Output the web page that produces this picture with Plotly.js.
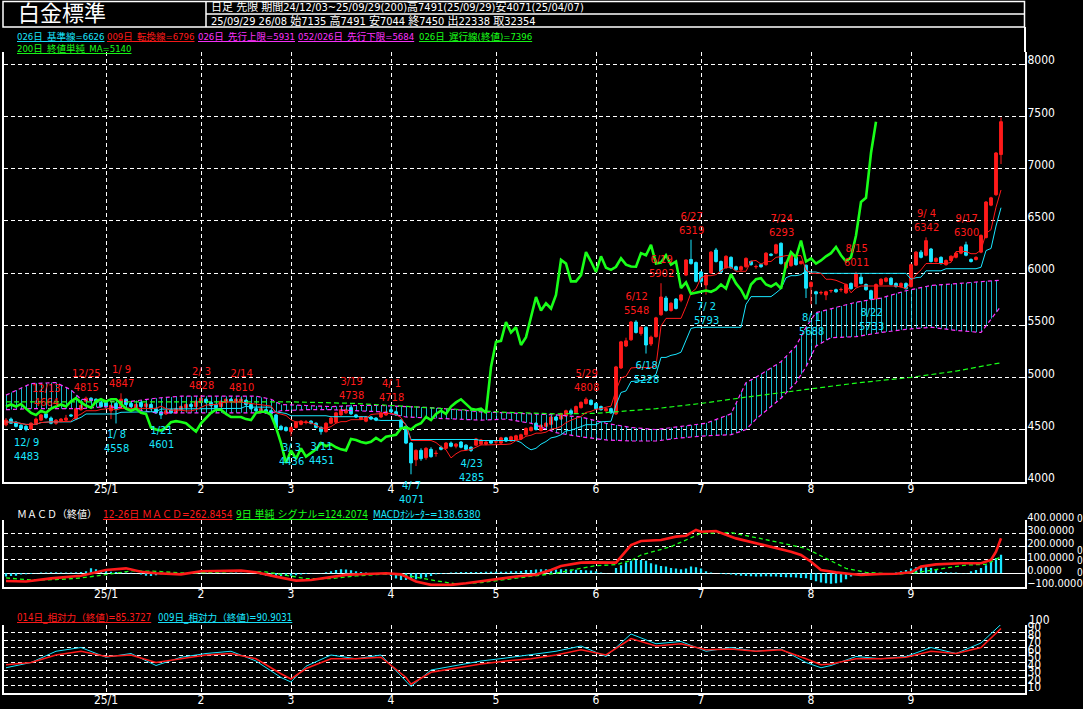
<!DOCTYPE html>
<html><head><meta charset="utf-8">
<script src="https://cdn.plot.ly/plotly-3.0.1.min.js"></script>
<style>html,body{margin:0;padding:0;background:#000;overflow:hidden}#chart{width:1083px;height:709px}</style>
</head><body><div id="chart"></div>
<script>
// ---------- price data (200 trading days, 24/12/03 .. 25/09/29) ----------
const openP = [4545,4600,4570,4540,4530,4505,4555,4590,4650,4610,
4560,4580,4590,4640,4600,4690,4770,4800,4790,4760,
4760,4680,4750,4720,4790,4750,4700,4760,4720,4740,
4700,4670,4650,4690,4660,4690,4710,4740,4720,4760,
4790,4760,4740,4720,4760,4790,4760,4770,4780,4740,
4700,4670,4690,4680,4640,4530,4520,4480,4520,4550,
4570,4580,4560,4520,4480,4560,4570,4640,4660,4710,
4640,4600,4580,4620,4610,4620,4640,4690,4670,4590,
4530,4370,4210,4300,4230,4310,4270,4330,4320,4370,
4340,4380,4350,4330,4350,4360,4360,4390,4380,4370,
4420,4390,4400,4410,4450,4490,4560,4490,4530,4550,
4620,4600,4630,4680,4660,4710,4750,4780,4750,4720,
4680,4700,4650,5090,5300,5360,5530,5420,5480,5320,
5390,5600,5760,5640,5750,5740,5980,6130,6100,6010,
5885,6000,6220,6110,6050,6150,6060,6030,6060,6110,
6060,6080,6080,6180,6190,6285,6050,6070,6150,6090,
6075,5870,5820,5810,5790,5830,5840,5840,5810,5900,
5870,5960,5890,5830,5750,5890,5920,5950,5900,5870,
5900,5870,6075,6200,6170,6230,6110,6150,6080,6120,
6150,6190,6270,6130,6130,6200,6340,6650,6750,7135];
const highP = [4610,4615,4580,4555,4545,4570,4615,4650,4664,4625,
4600,4610,4640,4650,4710,4750,4815,4810,4800,4775,
4775,4740,4760,4847,4800,4765,4750,4770,4755,4750,
4710,4680,4690,4700,4710,4730,4750,4755,4780,4828,
4800,4770,4750,4780,4800,4800,4800,4810,4790,4750,
4710,4710,4700,4690,4650,4545,4530,4530,4580,4590,
4590,4590,4570,4530,4570,4620,4670,4700,4700,4738,
4650,4630,4630,4630,4620,4670,4680,4718,4680,4600,
4540,4380,4310,4320,4330,4330,4300,4345,4380,4385,
4370,4390,4360,4340,4420,4410,4390,4400,4400,4430,
4430,4440,4450,4460,4520,4530,4570,4550,4570,4630,
4630,4660,4690,4700,4730,4770,4808,4790,4760,4730,
4710,4710,5110,5350,5380,5540,5548,5490,5490,5400,
5580,5902,5780,5720,5760,5800,6130,6319,6110,6020,
5990,6210,6240,6120,6170,6160,6070,6070,6150,6120,
6080,6090,6200,6190,6280,6293,6110,6180,6160,6120,
6080,5920,5830,5830,5830,5840,5850,5860,5900,5910,
6011,5990,5900,5840,5900,5950,5960,5960,5910,5910,
5910,6090,6210,6220,6342,6240,6150,6160,6130,6170,
6200,6260,6300,6140,6160,6370,6690,6730,7160,7491];
const lowP = [4530,4555,4520,4500,4483,4495,4545,4580,4600,4550,
4545,4570,4580,4620,4590,4680,4760,4770,4750,4710,
4700,4600,4558,4710,4730,4710,4690,4710,4710,4690,
4650,4601,4640,4650,4650,4680,4700,4710,4710,4750,
4750,4720,4700,4710,4750,4760,4750,4760,4730,4690,
4670,4660,4650,4640,4510,4490,4480,4436,4510,4540,
4550,4550,4510,4451,4470,4550,4560,4630,4650,4640,
4610,4590,4570,4590,4580,4610,4630,4660,4630,4510,
4360,4071,4150,4200,4210,4230,4240,4300,4310,4330,
4320,4320,4300,4285,4340,4350,4350,4360,4360,4360,
4380,4380,4390,4400,4440,4480,4490,4480,4520,4540,
4580,4590,4620,4640,4650,4700,4740,4730,4690,4680,
4670,4650,4640,5080,5290,5350,5420,5400,5228,5300,
5380,5590,5630,5630,5650,5720,5970,6080,5910,5900,
5793,5990,6100,6000,6040,6040,6020,6020,6050,6070,
6040,6050,6070,6160,6180,6080,6040,6060,6070,6080,
5760,5700,5700,5790,5740,5810,5810,5820,5800,5840,
5860,5890,5830,5740,5760,5880,5910,5880,5860,5860,
5840,5860,6070,6140,6160,6100,6100,6080,6070,6110,
6140,6180,6160,6100,6120,6190,6330,6640,6740,7044];
const closeP = [4590,4560,4530,4510,4500,4560,4600,4640,4615,4560,
4590,4600,4610,4630,4700,4730,4800,4780,4760,4720,
4720,4730,4700,4790,4740,4720,4740,4720,4745,4700,
4660,4640,4680,4660,4700,4720,4740,4720,4770,4800,
4760,4730,4710,4770,4790,4770,4790,4790,4740,4700,
4680,4700,4660,4650,4520,4500,4490,4520,4570,4580,
4572,4560,4520,4480,4560,4610,4660,4690,4690,4650,
4620,4620,4620,4600,4590,4660,4670,4670,4640,4520,
4370,4180,4300,4220,4320,4240,4272,4310,4370,4340,
4360,4330,4310,4300,4410,4400,4380,4370,4382,4420,
4390,4430,4440,4450,4510,4520,4500,4540,4560,4620,
4590,4650,4680,4650,4720,4760,4790,4740,4700,4690,
4700,4660,5100,5340,5350,5530,5430,5480,5310,5385,
5570,5770,5640,5710,5660,5790,6125,6090,5920,5920,
5980,6200,6110,6010,6160,6050,6030,6060,6140,6080,
6062,6060,6190,6170,6270,6090,6100,6170,6080,6110,
5855,5910,5800,5812,5820,5832,5820,5842,5890,5850,
5990,5900,5840,5750,5890,5940,5950,5890,5870,5900,
5850,6080,6200,6150,6310,6110,6140,6090,6120,6160,
6190,6250,6170,6110,6150,6360,6680,6720,7150,7450];

// month ticks (bar index of first trading day)
const monthTickIdx = [20,39,57,77,98,118,139,161,181];
const monthTickText = ['25/1','2','3','4','5','6','7','8','9'];

// Ichimoku cloud bounds (bar index, upper, lower)
const cloudIdx   = [0,5,10,13,15,20,25,30,35,40,45,50,53,55,60,65,70,75,80,85,90,95,100,105,110,115,120,125,130,135,140,145,148,150,155,158,160,162,165,170,175,180,185,190,195,199];
const cloudUpper = [4830,4940,4950,4880,4790,4770,4770,4800,4820,4820,4820,4820,4790,4740,4730,4720,4730,4730,4720,4710,4690,4670,4660,4650,4640,4620,4560,4520,4500,4530,4560,4650,4950,5000,5150,5300,5480,5620,5660,5720,5760,5830,5880,5900,5920,5931];
const cloudLower = [4690,4700,4700,4700,4700,4720,4700,4660,4660,4660,4660,4660,4660,4680,4690,4690,4680,4670,4620,4610,4600,4590,4600,4560,4470,4430,4400,4390,4390,4420,4440,4450,4500,4600,4800,4950,5100,5300,5380,5390,5430,5460,5480,5450,5430,5684];

// 200-day simple MA
const maIdx = [0,20,40,57,70,80,90,100,110,118,130,139,148,160,170,181,190,199];
const maVal = [4765,4765,4765,4765,4750,4720,4690,4665,4650,4655,4700,4750,4810,4880,4945,5000,5060,5140];

// MACD (12-26) and 9-day simple signal
const macdIdx = [0,4,9,15,20,24,27,30,35,39,47,50,54,58,61,68,72,76,79,82,85,89,92,96,99,103,106,109,111,115,117,122,125,127,131,134,136,138,139,142,146,150,153,157,159,161,163,166,169,171,175,178,181,183,186,191,195,197,198,199];
const macdVal = [-58,-62,-38,-18,25,37,12,0,-8,15,20,8,-25,-55,-50,-12,-5,0,-8,-62,-87,-87,-75,-55,-37,-20,-10,25,55,80,82,80,212,242,250,275,282,325,312,317,262,225,200,162,137,87,25,7,-5,-12,-5,-3,7,50,67,75,75,100,162,262.8454];
const sigIdx = [0,5,10,15,20,25,30,35,40,47,52,56,60,65,70,76,80,85,90,95,100,105,110,114,118,122,125,127,133,139,145,151,156,160,164,168,172,178,182,186,192,196,199];
const sigVal = [-35,-50,-48,-35,-10,18,15,2,5,15,10,-15,-40,-40,-20,-5,-15,-50,-80,-70,-48,-25,0,30,57,65,95,137,200,300,305,260,220,187,112,37,7,-8,5,30,62,67,124.2074];
const macdOsc = [-25,-20,-18,-10,-8,-6,
3,5,6,8,8,6,5,6,8,10,15,
37,30,25,
15,12,10,8,6,4,2,
-10,-18,-20,-15,
-8,-5,-4,-2,0,2,3,
5,6,6,5,4,4,3,4,5,4,3,2,0,
-10,-18,-25,-25,-22,
-20,-18,-15,-10,
-5,-2,0,3,8,15,
25,30,28,22,
15,10,6,3,0,
-5,-10,-20,
-40,-50,-50,-48,-45,-40,-30,-20,
-8,-5,-3,
5,8,10,10,10,10,10,12,12,12,12,12,15,15,18,
25,25,28,30,
30,28,28,30,30,28,26,25,22,20,15,
5,2,0,
40,60,80,95,
100,100,95,
75,65,55,50,
40,35,30,35,
50,45,35,
15,5,0,-5,-8,-10,
-15,-18,-20,-22,-25,-25,-22,-25,-25,-28,-30,-30,-32,-35,-37,
-50,-60,-70,-75,-78,-75,-70,
-45,-25,
-10,-8,-5,-3,0,2,3,3,5,
15,25,35,45,50,45,40,30,
10,8,5,5,3,2,
15,25,40,60,90,115,138.638];

// RSI 14 / 9
const rsiIdx = [0,5,10,15,20,25,30,35,40,45,50,55,57,60,65,70,75,80,81,85,90,95,100,105,110,115,120,125,130,135,140,145,150,155,160,163,165,170,175,180,185,190,195,199];
const rsi14 = [37,40,50,55,48,50,40,45,50,52,45,25,18,32,45,45,47,20,11,27,33,38,42,45,50,57,50,72,62,65,57,58,55,57,45,37,38,45,45,47,55,52,60,85.3727];
const rsi9  = [33,40,55,60,47,52,36,47,52,55,42,20,14,35,50,45,50,15,8,30,36,42,46,50,55,62,48,78,65,68,55,60,55,58,40,33,36,48,45,48,60,52,66,90.9031];

// high / low markers
const hiIdx  = [8,16,23,39,47,69,77,116,126,131,137,155,170,184,192];
const hiDate = ['12/13','12/25','1/ 9','2/ 3','2/14','3/19','4/ 1','5/29','6/12','6/19','6/27','7/24','8/15','9/ 4','9/17'];
const hiVal  = [4664,4815,4847,4828,4810,4738,4718,4808,5548,5902,6319,6293,6011,6342,6300];
const loIdx  = [4,22,31,57,63,81,93,128,140,161,173];
const loDate = ['12/ 9','1/ 8','1/21','3/ 3','3/11','4/ 7','4/23','6/18','7/ 2','8/ 1','8/22'];
const loVal  = [4483,4558,4601,4436,4451,4071,4285,5228,5793,5688,5733];

// ---------- derived ----------
const W = 1083, H = 709;
const px = v => v / W, py = v => 1 - v / H;
const idx = closeP.map((_, i) => i);
function midLine(n) {
  return idx.map(i => {
    let hi = -Infinity, lo = Infinity;
    for (let k = Math.max(0, i - n + 1); k <= i; k++) { hi = Math.max(hi, highP[k]); lo = Math.min(lo, lowP[k]); }
    return (hi + lo) / 2;
  });
}
const kijun = midLine(26), tenkan = midLine(9);
const lagX = idx.slice(0, idx.length - 25);
const lagY = lagX.map(i => closeP[i + 25]);

const FONT = 'Liberation Sans Narrow, DejaVu Sans Condensed, Noto Sans CJK JP, sans-serif';
const RED = '#ff1a1a', CYAN = '#19e6ff', MAG = '#ff33ff', GRN = '#19ff19';

const traces = [
  {type:'scatter', mode:'lines', x:cloudIdx, y:cloudLower, line:{color:MAG, width:1.2, dash:'4px,3px'}, xaxis:'x', yaxis:'y', hoverinfo:'skip'},
  {type:'scatter', mode:'lines', x:cloudIdx, y:cloudUpper, line:{color:MAG, width:1.2, dash:'4px,3px'}, fill:'tonexty',
   fillcolor:'rgba(0,0,0,0)', fillpattern:{shape:'|', fgcolor:CYAN, fgopacity:0.8, bgcolor:'rgba(0,0,0,0)', size:5, solidity:0.2},
   xaxis:'x', yaxis:'y', hoverinfo:'skip'},
  {type:'scatter', mode:'lines', x:maIdx, y:maVal, line:{color:GRN, width:1.2, dash:'5px,3px'}, xaxis:'x', yaxis:'y'},
  {type:'candlestick', x:idx, open:openP, high:highP, low:lowP, close:closeP, xaxis:'x', yaxis:'y', whiskerwidth:0,
   increasing:{line:{color:RED, width:1}, fillcolor:RED},
   decreasing:{line:{color:CYAN, width:1}, fillcolor:CYAN}, hoverinfo:'skip'},
  {type:'scatter', mode:'lines', x:idx, y:kijun, line:{color:CYAN, width:1}, xaxis:'x', yaxis:'y'},
  {type:'scatter', mode:'lines', x:idx, y:tenkan, line:{color:RED, width:1}, xaxis:'x', yaxis:'y'},
  {type:'scatter', mode:'lines', x:lagX, y:lagY, line:{color:GRN, width:2.6}, xaxis:'x', yaxis:'y'},
  // MACD
  {type:'bar', x:idx, y:macdOsc, marker:{color:CYAN, line:{width:0}}, width:0.45, xaxis:'x2', yaxis:'y2'},
  {type:'scatter', mode:'lines', x:sigIdx, y:sigVal, line:{color:GRN, width:1.3, dash:'4px,3px'}, xaxis:'x2', yaxis:'y2'},
  {type:'scatter', mode:'lines', x:macdIdx, y:macdVal, line:{color:RED, width:2.6}, xaxis:'x2', yaxis:'y2'},
  // RSI
  {type:'scatter', mode:'lines', x:rsiIdx, y:rsi9, line:{color:CYAN, width:1}, xaxis:'x3', yaxis:'y3', cliponaxis:false},
  {type:'scatter', mode:'lines', x:rsiIdx, y:rsi14, line:{color:RED, width:1.6}, xaxis:'x3', yaxis:'y3', cliponaxis:false}
];

const xDom = [px(4), px(1025)];
const xBase = {domain:xDom, range:[-0.4, 203.8], tickmode:'array', tickvals:monthTickIdx, ticktext:monthTickText,
  showgrid:true, gridcolor:'#ffffff', griddash:'4px,3px', gridwidth:1, zeroline:false,
  showline:true, linecolor:'#ffffff', linewidth:2, ticks:'', ticklabelstandoff:-5,
  tickfont:{family:FONT, size:12, color:'#ffffff'}, fixedrange:true};
const yBase = {side:'right', showgrid:true, gridcolor:'#ffffff', griddash:'4px,3px', gridwidth:1, zeroline:false,
  showline:true, mirror:true, linecolor:'#ffffff', linewidth:2, ticks:'inside', ticklen:3, tickcolor:'#ffffff',
  tickfont:{family:FONT, size:12, color:'#ffffff'}, ticklabelstandoff:-2, fixedrange:true};

const annotations = [];
function addText(x, y, text, color, size, anchor) {
  annotations.push({xref:'paper', yref:'paper', x:px(x), y:py(y), text:text, showarrow:false,
    xanchor:anchor||'left', yanchor:'middle', font:{family:FONT, size:size, color:color}});
}
addText(16, 14, '白金標準', '#ffffff', 22);
addText(209, 7.5, '日足 先限 期間24/12/03~25/09/29(200)高7491(25/09/29)安4071(25/04/07)', '#ffffff', 11);
addText(209, 21, '25/09/29 26/08 始7135 高7491 安7044 終7450 出22338 取32354', '#ffffff', 11);
addText(15, 36, '<u>026日_基準線=6626</u>', CYAN, 9.5);
addText(105, 36, '<u>009日_転換線=6796</u>', RED, 9.5);
addText(196, 36, '<u>026日_先行上限=5931</u>', MAG, 9.5);
addText(296, 36, '<u>052/026日_先行下限=5684</u>', MAG, 9.5);
addText(417, 36, '<u>026日_遅行線(終値)=7396</u>', GRN, 9.5);
addText(15, 48.5, '<u>200日_終値単純_MA=5140</u>', GRN, 9.5);
addText(15, 514, 'ＭＡＣＤ（終値）', '#ffffff', 10);
addText(101, 514, '<u>12-26日 ＭＡＣＤ=262.8454</u>', RED, 10);
addText(234, 514, '<u>9日 単純 シグナル=124.2074</u>', GRN, 10);
addText(371, 514, '<u>MACDｵｼﾚｰﾀｰ=138.6380</u>', CYAN, 10);
addText(15, 618, '<u>014日_相対力（終値)=85.3727</u>', RED, 9.6);
addText(156, 618, '<u>009日_相対力（終値)=90.9031</u>', CYAN, 9.6);
addText(1027, 620, '100', '#ffffff', 12);
// clipped extra scale digits at the far right of the MACD panel
addText(1075, 518, '0', '#ffffff', 10);
addText(1075, 550, '0', '#ffffff', 10);
addText(1075, 560, '00', '#ffffff', 10);
addText(1075, 572, '00', '#ffffff', 10);

hiIdx.forEach((b, k) => annotations.push({xref:'x', yref:'y', x:b, y:hiVal[k], text:hiDate[k] + '<br>' + hiVal[k],
  showarrow:false, xanchor:'center', yanchor:'bottom', yshift:1, font:{family:FONT, size:11, color:RED}}));
loIdx.forEach((b, k) => annotations.push({xref:'x', yref:'y', x:b, y:loVal[k], text:loDate[k] + '<br>' + loVal[k],
  showarrow:false, xanchor:'center', yanchor:'top', yshift:-3, font:{family:FONT, size:11, color:CYAN}}));

const shapes = [
  {type:'rect', xref:'paper', yref:'paper', x0:px(3), x1:px(1024.5), y0:py(27), y1:py(1.5), line:{color:'#ffffff', width:1.5}},
  {type:'line', xref:'paper', yref:'paper', x0:px(206), x1:px(206), y0:py(27), y1:py(1.5), line:{color:'#ffffff', width:1.5}},
  {type:'line', xref:'paper', yref:'paper', x0:px(206), x1:px(1024.5), y0:py(14), y1:py(14), line:{color:'#ffffff', width:1.5}},
  {type:'line', xref:'paper', yref:'paper', x0:px(1025), x1:px(1025), y0:py(27), y1:py(52), line:{color:'#ffffff', width:2}}
];

const layout = {
  width:W, height:H, margin:{l:0, r:0, t:0, b:0}, paper_bgcolor:'#000000', plot_bgcolor:'#000000',
  showlegend:false, boxgap:0.2, bargap:0.5, hovermode:false,
  xaxis: Object.assign({}, xBase, {anchor:'y', rangeslider:{visible:false}}),
  xaxis2: Object.assign({}, xBase, {anchor:'y2', matches:'x'}),
  xaxis3: Object.assign({}, xBase, {anchor:'y3', matches:'x'}),
  yaxis: Object.assign({}, yBase, {domain:[py(481.7), py(52)], range:[4000, 8117.8], tickmode:'array',
    tickvals:[4000,4500,5000,5500,6000,6500,7000,7500,8000], ticklabelshift:-4}),
  yaxis2: Object.assign({}, yBase, {domain:[py(586.6), py(520)], range:[-100, 400], tickmode:'array',
    tickvals:[-100,0,100,200,300,400], tickformat:'.4f', ticklabelshift:-3,
    tickfont:{family:FONT, size:11, color:'#ffffff'},
    zeroline:true, zerolinecolor:'#ffffff', zerolinewidth:1.5}),
  yaxis3: Object.assign({}, yBase, {domain:[py(692.5), py(625)], range:[0, 90], tickmode:'array',
    tickvals:[10,20,30,40,50,60,70,80,90], ticklabelshift:2}),
  annotations:annotations, shapes:shapes
};
Plotly.newPlot('chart', traces, layout, {staticPlot:true, displayModeBar:false});
</script></body></html>
